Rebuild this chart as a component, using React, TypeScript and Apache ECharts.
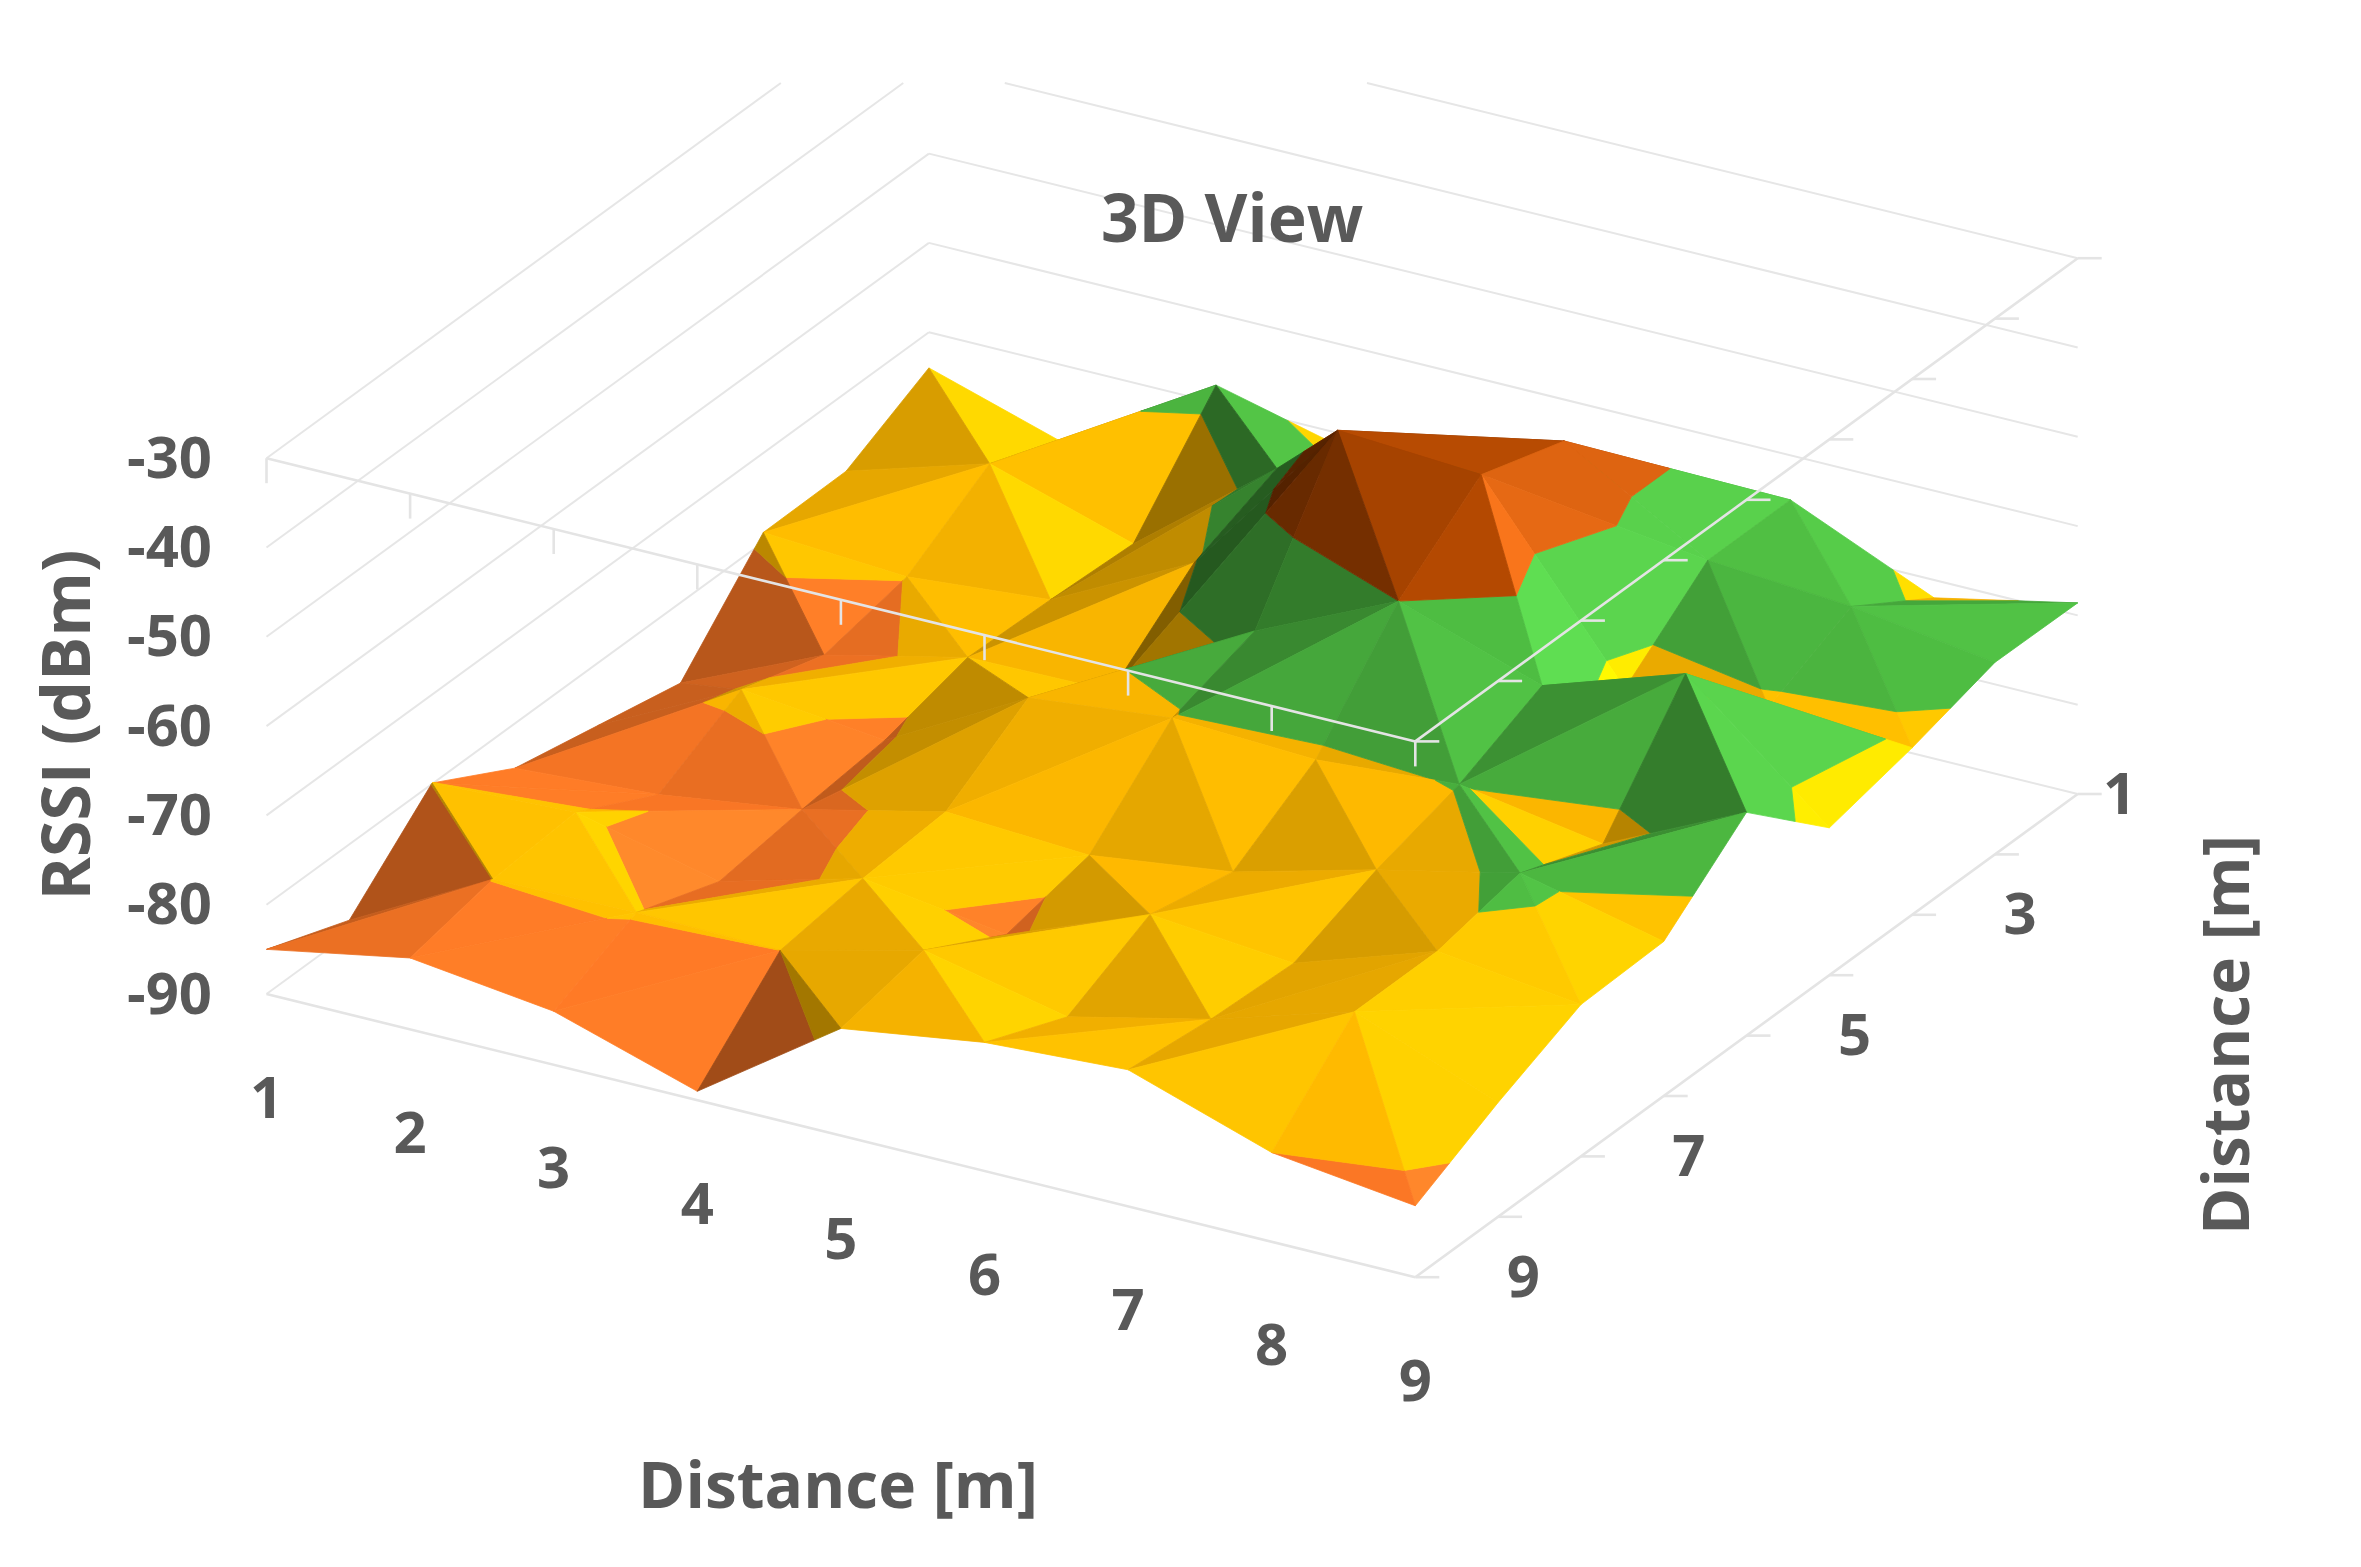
// 3D surface of RSSI over a 9 x 9 m floor, drawn as a custom series with a parallel projection.
import * as echarts from "echarts";
import { useEffect, useRef } from "react";

const xTicks = [1, 2, 3, 4, 5, 6, 7, 8, 9];
const depthTicks = [1, 2, 3, 4, 5, 6, 7, 8, 9];
const depthLabels = [1, 3, 5, 7, 9];
const rssiTicks = [-90, -80, -70, -60, -50, -40, -30];

// RSSI (dBm) per depth row, x = 1..9
const rssiD1 = [-74, -79, -68, -72, -70, -68, -65, -72, -68.6];
const rssiD2 = [-78.8, -74, -79, -66.6, -65, -55.6, -65, -66.2, -68.5];
const rssiD3 = [-78.9, -79.9, -78.5, -70.4, -51.6, -52.6, -72.6, -70.7, -71.3];
const rssiD4 = [-89, -81.9, -78.2, -78, -67.3, -60, -65.5, -60.2, -73.5];
const rssiD5 = [-87, -79, -80.7, -72, -70.3, -71, -69.8, -72.5, -65];
const rssiD6 = [-85, -84, -81.7, -78, -78.9, -76.8, -72.6, -69, -72.7];
const rssiD7 = [-79.9, -79.2, -83, -78.7, -81, -74.8, -76.3, -71, -73];
const rssiD8 = [-88.5, -79.95, -79.7, -80, -76, -79.5, -75.8, -71, -77.2];
const rssiD9 = [-85, -82, -84, -89, -78, -75.6, -74.7, -80, -82];
const rssi = [rssiD1, rssiD2, rssiD3, rssiD4, rssiD5, rssiD6, rssiD7, rssiD8, rssiD9];

// colour bands of the surface, low to high. red and gold run past 255 on purpose,
// they only drop below full once a facet is well in the shade
const bandEdges = [-90, -80, -70, -60, -50];
const bandColors = [
  [270, 128, 40],
  [275, 200, 0],
  [78, 188, 66],
  [178, 72, 0],
];
const bandLift = [20, 0, 40, 110]; // washes out the brightest facets
const bandGain = [1, 1, 0.6, 1]; // how far a band follows the light above k = 1

const TEXT = "#595959";
const GRID = "#e6e6e6";
const FRAME = "#e4e4e4";
const FONT = "Open Sans";

// parallel projection, page pixels
const project = (x: number, d: number, v: number): number[] => [
  266.5 + 143.6 * (x - 1) + 82.8 * (9 - d),
  994 + 35.4 * (x - 1) - 60.4 * (9 - d) - 8.93 * (v + 90),
];

type P3 = number[];

// facet lighting: faces turned to -x go dark fast, faces turned to +x brighten slowly
function shade(a: P3, b: P3, c: P3): number {
  const ux = b[0] - a[0], ud = b[1] - a[1], uz = (b[2] - a[2]) * 0.05;
  const vx = c[0] - a[0], vd = c[1] - a[1], vz = (c[2] - a[2]) * 0.05;
  let nx = ud * vz - uz * vd;
  let nd = uz * vx - ux * vz;
  let nz = ux * vd - ud * vx;
  if (nz < 0) {
    nx = -nx;
    nd = -nd;
    nz = -nz;
  }
  const len = Math.hypot(nx, nd, nz) || 1;
  nx /= len;
  nd /= len;
  return 1 + (nx > 0 ? 0.36 : 0.7) * nx - 0.25 * Math.max(nd, 0);
}

function clipBand(tri: P3[], lo: number, hi: number): P3[] {
  const clip = (pts: P3[], keep: (z: number) => boolean, edge: number) => {
    const out: P3[] = [];
    pts.forEach((p, i) => {
      const q = pts[(i + 1) % pts.length];
      if (keep(p[2])) out.push(p);
      if (keep(p[2]) !== keep(q[2])) {
        const t = (edge - p[2]) / (q[2] - p[2]);
        out.push([p[0] + (q[0] - p[0]) * t, p[1] + (q[1] - p[1]) * t, edge]);
      }
    });
    return out;
  };
  return clip(clip(tri, (z) => z >= lo, lo), (z) => z <= hi, hi);
}

interface Facet {
  pts: P3[];
  color: string;
}

// back to front so that nearer facets cover farther ones.
// each cell is two triangles, the diagonal joins the pair of corners with the higher sum
function buildFacets(): Facet[] {
  const facets: Facet[] = [];
  for (let i = 0; i < xTicks.length - 1; i++) {
    for (let j = 0; j < depthTicks.length - 1; j++) {
      const x0 = xTicks[i], x1 = xTicks[i + 1], d0 = depthTicks[j], d1 = depthTicks[j + 1];
      const a = [x0, d0, rssi[j][i]];
      const b = [x1, d0, rssi[j][i + 1]];
      const c = [x0, d1, rssi[j + 1][i]];
      const e = [x1, d1, rssi[j + 1][i + 1]];
      const tris = a[2] + e[2] >= b[2] + c[2] ? [[a, b, e], [a, e, c]] : [[a, b, c], [b, e, c]];
      tris.forEach((tri) => {
        const raw = shade(tri[0], tri[1], tri[2]);
        bandColors.forEach((base, n) => {
          const pts = clipBand(tri, bandEdges[n], bandEdges[n + 1]);
          if (pts.length < 3) return;
          const k = raw > 1 ? 1 + (raw - 1) * bandGain[n] : raw;
          const lift = bandLift[n] * Math.max(k - 1, 0);
          const [r, g, bl] = base.map((ch) => Math.min(255, Math.round(ch * k + lift)));
          facets.push({ pts, color: `rgb(${r},${g},${bl})` });
        });
      });
    }
  }
  return facets;
}

const TOP_CLIP = 83; // the walls are cut off above this page y

function wallSegments(): number[][][] {
  const segs: number[][][] = [];
  rssiTicks.forEach((v) => {
    const left = project(1, 9, v);
    const back = project(1, 1, v);
    const right = project(9, 1, v);
    segs.push([left, back], [back, right]);
  });
  return segs
    .filter((s) => s[0][1] > TOP_CLIP || s[1][1] > TOP_CLIP)
    .map(([p, q]) => {
      const cut = (u: number[], w: number[]) => {
        if (u[1] >= TOP_CLIP) return u;
        const t = (TOP_CLIP - u[1]) / (w[1] - u[1]);
        return [u[0] + (w[0] - u[0]) * t, TOP_CLIP];
      };
      return [cut(p, q), cut(q, p)];
    });
}

function frameSegments(): number[][][] {
  const top = rssiTicks[rssiTicks.length - 1];
  const low = rssiTicks[0];
  const segs: number[][][] = [
    [project(1, 9, top), project(9, 9, top)],
    [project(9, 9, top), project(9, 1, top)],
    [project(1, 9, low), project(9, 9, low)],
    [project(9, 9, low), project(9, 1, low)],
  ];
  xTicks.forEach((x) => {
    const p = project(x, 9, top);
    segs.push([p, [p[0], p[1] + 25]]);
  });
  depthTicks.forEach((d) => {
    [top, low].forEach((v) => {
      const p = project(9, d, v);
      segs.push([p, [p[0] + 24, p[1]]]);
    });
  });
  return segs;
}

const facets = buildFacets();
const walls = wallSegments();
const frame = frameSegments();

const labelStyle = (text: string, fontSize: number) => ({
  text,
  fill: TEXT,
  fontFamily: FONT,
  fontWeight: 700,
  fontSize,
  align: "center",
  verticalAlign: "middle",
});

function lineSeries(segs: number[][][], z: number, width: number, stroke: string) {
  return {
    type: "custom",
    coordinateSystem: "cartesian2d",
    silent: true,
    z,
    clip: false,
    progressive: 0,
    data: segs.map((_, i) => [i]),
    renderItem: (params: any, api: any) => {
      const [p, q] = segs[params.dataIndex];
      const a = api.coord(p);
      const b = api.coord(q);
      return {
        type: "line",
        shape: { x1: a[0], y1: a[1], x2: b[0], y2: b[1] },
        style: { stroke, lineWidth: width, fill: "none" },
      };
    },
  };
}

function labelSeries(items: { at: number[]; text: string }[]) {
  return {
    type: "custom",
    coordinateSystem: "cartesian2d",
    silent: true,
    z: 6,
    clip: false,
    data: items.map((_, i) => [i]),
    renderItem: (params: any, api: any) => {
      const it = items[params.dataIndex];
      const p = api.coord(it.at);
      return { type: "text", x: p[0], y: p[1], style: labelStyle(it.text, 58) };
    },
  };
}

export default function App() {
  const box = useRef<HTMLDivElement>(null);

  useEffect(() => {
    if (!box.current) return;
    const c = echarts.init(box.current, undefined, { renderer: "svg" });

    const labels = [
      ...rssiTicks.map((v) => {
        const p = project(1, 9, v);
        return { at: [p[0] - 97, p[1] - 3], text: String(v) };
      }),
      ...xTicks.map((x) => {
        const p = project(x, 9, -90);
        return { at: [p[0], p[1] + 101], text: String(x) };
      }),
      ...depthLabels.map((d) => {
        const p = project(9, d, -90);
        return { at: [p[0] + (d === 1 ? 42 : 108), p[1] - 3], text: String(d) };
      }),
    ];

    c.setOption({
      animation: false,
      backgroundColor: "#ffffff",
      grid: { left: 0, right: 0, top: 0, bottom: 0 },
      xAxis: { type: "value", min: 0, max: 2361, show: false },
      yAxis: { type: "value", min: 0, max: 1567, inverse: true, show: false },
      title: {
        text: "3D View",
        left: 1227,
        top: 211,
        textAlign: "center",
        textVerticalAlign: "middle",
        textStyle: { color: TEXT, fontFamily: FONT, fontWeight: 700, fontSize: 66 },
      },
      graphic: [
        { type: "text", x: 64, y: 725, rotation: Math.PI / 2, style: labelStyle("RSSI (dBm)", 66) },
        { type: "text", x: 838, y: 1483, style: labelStyle("Distance [m]", 64) },
        { type: "text", x: 2224, y: 1035, rotation: Math.PI / 2, style: labelStyle("Distance [m]", 64) },
      ],
      series: [
        lineSeries(walls, 1, 2, GRID),
        {
          type: "custom",
          coordinateSystem: "cartesian2d",
          silent: true,
          z: 2,
          clip: false,
          progressive: 0,
          data: facets.map((_, i) => [i]),
          renderItem: (params: any, api: any) => {
            const f = facets[params.dataIndex];
            return {
              type: "polygon",
              shape: { points: f.pts.map((p) => api.coord(project(p[0], p[1], p[2]))) },
              style: { fill: f.color, stroke: f.color, lineWidth: 0.8 },
            };
          },
        },
        lineSeries(frame, 3, 2.6, FRAME),
        labelSeries(labels),
      ],
    });

    return () => c.dispose();
  }, []);

  return <div ref={box} style={{ position: "absolute", left: 0, top: 0, width: 2361, height: 1567 }} />;
}
